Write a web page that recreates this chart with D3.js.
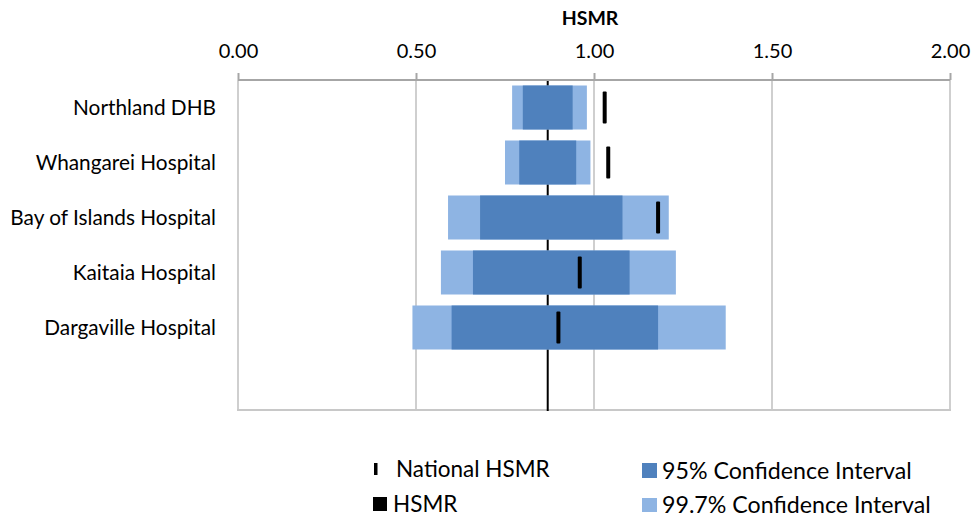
<!DOCTYPE html>
<html>
<head>
<meta charset="utf-8">
<script src="https://cdn.jsdelivr.net/npm/d3@7"></script>
<style>
  body { margin: 0; background: #fff; }
  svg { display: block; font-family: Lato, "Open Sans", sans-serif; }
</style>
</head>
<body>
<svg id="chart" width="973" height="518"></svg>
<script>
const categories = ["Northland DHB", "Whangarei Hospital", "Bay of Islands Hospital", "Kaitaia Hospital", "Dargaville Hospital"];
const hsmr      = [1.03, 1.04, 1.18, 0.96, 0.90];
const ci95Low   = [0.80, 0.79, 0.68, 0.66, 0.60];
const ci95High  = [0.94, 0.95, 1.08, 1.10, 1.18];
const ci997Low  = [0.77, 0.75, 0.59, 0.57, 0.49];
const ci997High = [0.98, 0.99, 1.21, 1.23, 1.37];
const nationalHSMR = 0.87;
const xTicks = [0, 0.5, 1, 1.5, 2];
const axisTitle = "HSMR";
const legendItems = ["National HSMR", "HSMR", "95% Confidence Interval", "99.7% Confidence Interval"];

const C95 = "#4f81bd", C997 = "#8eb4e3";
const svg = d3.select("#chart");
const pL = 238, pR = 950, pT = 80, pB = 410;

const x = d3.scaleLinear().domain([0, 2]).range([pL, pR]);
const y = d3.scaleBand().domain([...categories, ""]).range([pT, pB]).paddingInner(0.2).paddingOuter(0.1);

// gridlines
svg.append("g").selectAll("line").data(xTicks).join("line")
  .attr("x1", d => x(d)).attr("x2", d => x(d))
  .attr("y1", pT).attr("y2", pB)
  .attr("stroke", "#cfcfcf").attr("stroke-width", 2);

// bottom border
svg.append("line").attr("x1", pL - 1).attr("x2", pR + 1).attr("y1", pB).attr("y2", pB)
  .attr("stroke", "#c8c8c8").attr("stroke-width", 2);

// national line
svg.append("line").attr("x1", x(nationalHSMR)).attr("x2", x(nationalHSMR))
  .attr("y1", pT).attr("y2", pB + 1).attr("stroke", "#000").attr("stroke-width", 2);

// top axis
const axis = d3.axisTop(x).tickValues(xTicks).tickFormat(d3.format(".2f")).tickSize(7).tickPadding(15);
const ag = svg.append("g").attr("transform", `translate(0,${pT})`).call(axis);
ag.select(".domain").attr("stroke", "#a6a6a6").attr("stroke-width", 2).attr("d", `M${pL},0H${pR}`);
ag.selectAll(".tick line").attr("stroke", "#a6a6a6").attr("stroke-width", 2);
ag.selectAll(".tick text").attr("fill", "#000").style("font-size", "20px").style("font-family", "Lato, sans-serif");

// title
svg.append("text").attr("x", x(1) - 4).attr("y", 25).attr("text-anchor", "middle")
  .style("font-weight", "bold").style("font-size", "19.5px").text(axisTitle);

// category labels
svg.append("g").selectAll("text").data(categories).join("text")
  .attr("x", pL - 22).attr("y", d => y(d) + y.bandwidth() / 2).attr("dy", "0.35em")
  .attr("text-anchor", "end").style("font-size", "20.8px").attr("fill", "#000").text(d => d);

const bars = svg.append("g");
categories.forEach((c, i) => {
  bars.append("rect").attr("x", x(ci997Low[i])).attr("width", x(ci997High[i]) - x(ci997Low[i]))
    .attr("y", y(c)).attr("height", y.bandwidth()).attr("fill", C997);
  bars.append("rect").attr("x", x(ci95Low[i])).attr("width", x(ci95High[i]) - x(ci95Low[i]))
    .attr("y", y(c)).attr("height", y.bandwidth()).attr("fill", C95);
  bars.append("rect").attr("x", x(hsmr[i]) - 2).attr("width", 4)
    .attr("y", y(c) + y.bandwidth() / 2 - 16).attr("height", 32).attr("rx", 1).attr("fill", "#000");
});

// legend
const lg = svg.append("g").style("font-size", "22.5px");
lg.append("rect").attr("x", 374).attr("y", 463).attr("width", 3.5).attr("height", 12).attr("fill", "#000");
lg.append("text").attr("x", 396).attr("y", 477).text(legendItems[0]);
lg.append("rect").attr("x", 373).attr("y", 497).attr("width", 14).attr("height", 14).attr("fill", "#000");
lg.append("text").attr("x", 393).attr("y", 512).text(legendItems[1]);
const lg2 = svg.append("g").style("font-size", "23.2px");
lg2.append("rect").attr("x", 642).attr("y", 463).attr("width", 15).attr("height", 15).attr("fill", C95);
lg2.append("text").attr("x", 662).attr("y", 479).text(legendItems[2]);
lg2.append("rect").attr("x", 642).attr("y", 498).attr("width", 15).attr("height", 14).attr("fill", C997);
lg2.append("text").attr("x", 662).attr("y", 513).text(legendItems[3]);
</script>
</body>
</html>
